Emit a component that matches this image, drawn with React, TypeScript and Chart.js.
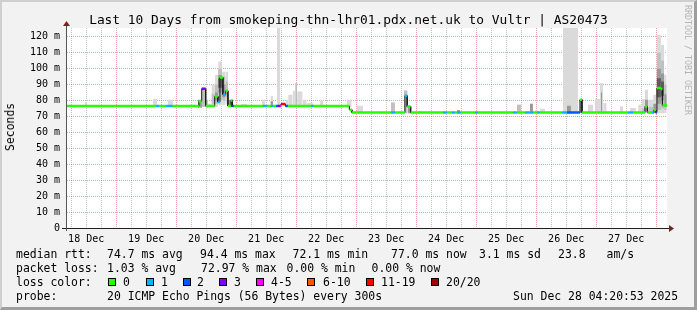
import React, { useEffect, useRef } from "react";
import { Chart, registerables } from "chart.js";

Chart.register(...registerables);

const FONT = '"DejaVu Sans Mono", monospace';

const title = "Last 10 Days from smokeping-thn-lhr01.pdx.net.uk to Vultr | AS20473";
const yUnitLabel = "Seconds";
const watermark = "RRDTOOL / TOBI OETIKER";

// x axis: hours since 18 Dec 00:00
const xMin = 4.33;
const xMax = 244.33;
const xGridHours = [6, 12, 18, 24, 30, 36, 42, 48, 54, 60, 66, 72, 78, 84, 90, 96, 102, 108, 114, 120, 126, 132, 138, 144, 150, 156, 162, 168, 174, 180, 186, 192, 198, 204, 210, 216, 222, 228, 234, 240];
const dayLabelHours = [12, 36, 60, 84, 108, 132, 156, 180, 204, 228];
const dayLabels = ["18 Dec", "19 Dec", "20 Dec", "21 Dec", "22 Dec", "23 Dec", "24 Dec", "25 Dec", "26 Dec", "27 Dec"];

// y axis: milliseconds
const yMax = 125.5;
const yGridValues = [0, 5, 10, 15, 20, 25, 30, 35, 40, 45, 50, 55, 60, 65, 70, 75, 80, 85, 90, 95, 100, 105, 110, 115, 120, 125];
const yLabelValues = [0, 10, 20, 30, 40, 50, 60, 70, 80, 90, 100, 110, 120];
const yLabelTexts = ["0", "10 m", "20 m", "30 m", "40 m", "50 m", "60 m", "70 m", "80 m", "90 m", "100 m", "110 m", "120 m"];

const lossColors = ["#26ff00", "#00b8ff", "#0059ff", "#7e00ff", "#ff00ff", "#ff5500", "#ff0000", "#a10000"];
const lossLabels = ["0", "1", "2", "3", "4-5", "6-10", "11-19", "20/20"];
const smokeShades = ["#dadada", "#c0c0c0", "#999999", "#5c5c5c"];

// median runs: [startHour, endHour, medianMs, lossClass]
const medianRuns: number[][] = [
  [4.3, 39.9, 76.5, 0],
  [39.9, 41.1, 76.5, 1],
  [41.1, 43.9, 76.5, 0],
  [43.9, 46.5, 76.5, 1],
  [46.5, 57.1, 76.5, 0],
  [57.1, 58.2, 79.4, 0],
  [58.2, 59.8, 87.4, 3],
  [59.8, 63.4, 76.5, 0],
  [63.4, 64.7, 82.6, 0],
  [64.7, 65.5, 79.0, 1],
  [65.5, 66.7, 94.4, 0],
  [66.7, 67.8, 83.6, 1],
  [67.8, 68.7, 86.1, 0],
  [68.7, 69.9, 76.5, 0],
  [69.9, 70.5, 80.0, 0],
  [70.5, 71.1, 76.5, 2],
  [71.1, 82.7, 76.5, 0],
  [82.7, 84.3, 76.5, 1],
  [84.3, 85.9, 76.5, 0],
  [85.9, 86.9, 76.5, 1],
  [86.9, 87.9, 76.5, 0],
  [87.9, 88.7, 76.5, 2],
  [88.7, 89.5, 76.5, 3],
  [89.5, 89.9, 76.5, 4],
  [89.9, 91.7, 77.8, 6],
  [91.7, 92.7, 76.5, 2],
  [92.7, 101.9, 76.5, 0],
  [101.9, 103.1, 76.5, 1],
  [103.1, 117.3, 76.5, 0],
  [117.3, 118.3, 74.2, 0],
  [118.3, 133.9, 72.5, 0],
  [133.9, 135.5, 72.5, 1],
  [135.5, 139.5, 72.5, 0],
  [139.5, 140.4, 83.0, 1],
  [140.4, 141.8, 76.2, 0],
  [141.8, 154.7, 72.5, 0],
  [154.7, 156.3, 72.5, 1],
  [156.3, 158.3, 72.5, 0],
  [158.3, 159.5, 72.5, 1],
  [159.5, 160.3, 72.5, 0],
  [160.3, 161.9, 72.5, 1],
  [161.9, 167.5, 72.5, 0],
  [167.5, 168.7, 72.5, 1],
  [168.7, 182.7, 72.5, 0],
  [182.7, 184.3, 72.5, 1],
  [184.3, 187.5, 72.5, 0],
  [187.5, 190.7, 72.5, 1],
  [190.7, 192.3, 72.5, 0],
  [192.3, 193.5, 72.5, 1],
  [193.5, 202.3, 72.5, 0],
  [202.3, 204.3, 72.5, 1],
  [204.3, 209.5, 72.5, 2],
  [209.5, 210.3, 80.5, 0],
  [210.3, 228.7, 72.5, 0],
  [228.7, 230.7, 72.5, 1],
  [230.7, 235.5, 72.5, 0],
  [235.5, 236.5, 76.3, 0],
  [236.5, 238.3, 72.5, 0],
  [238.3, 239.1, 72.5, 1],
  [239.1, 239.9, 74.0, 0],
  [239.9, 240.3, 72.5, 2],
  [240.3, 241.9, 87.8, 0],
  [241.9, 242.5, 87.2, 0],
  [242.5, 244.3, 77.0, 0],
];

// smoke boxes: [startHour, endHour, lowMs, highMs, shade]
const smokeBoxes: number[][] = [
  [11.5, 12.3, 76, 79, 0],
  [38.7, 40.3, 76, 81, 0],
  [44.7, 46.7, 76, 80.5, 0],
  [53.5, 54.7, 76, 77.5, 0],
  [56.7, 58.3, 75.5, 80.5, 2],
  [58.3, 59.9, 76, 88, 1],
  [59.9, 60.7, 75.5, 80.5, 1],
  [60.7, 62.7, 76, 78, 0],
  [62.1, 63.5, 76, 90, 0],
  [62.1, 63.5, 78, 84, 1],
  [63.5, 64.8, 76, 96, 0],
  [63.5, 64.8, 78, 90, 1],
  [63.5, 64.8, 80, 85, 2],
  [64.8, 66.4, 77, 104.5, 0],
  [64.8, 66.4, 80, 100, 1],
  [64.8, 66.4, 85, 96, 2],
  [64.8, 66.4, 88, 94, 3],
  [66.4, 67.8, 77, 98, 0],
  [66.4, 67.8, 80, 95, 1],
  [66.4, 67.8, 82, 90, 2],
  [67.8, 68.8, 78, 98, 0],
  [67.8, 68.8, 82, 92, 1],
  [68.8, 69.9, 76, 80.5, 2],
  [69.9, 70.8, 76, 80.5, 3],
  [73.9, 76.3, 76, 77.8, 0],
  [82.3, 83.5, 76, 80.5, 0],
  [85.7, 86.7, 76, 83, 0],
  [85.7, 86.7, 76, 79.5, 2],
  [88.3, 89.7, 76, 125.5, 0],
  [91.9, 92.8, 76, 80.5, 0],
  [92.8, 94.6, 76, 83.6, 0],
  [94.6, 95.5, 76, 86.1, 0],
  [95.5, 96.4, 76, 91, 0],
  [95.8, 96.2, 76, 91, 2],
  [96.4, 98.6, 76, 85.7, 0],
  [98.6, 100.2, 76, 80.5, 0],
  [100.2, 102.8, 76, 78.4, 0],
  [105.5, 106.8, 76, 80, 0],
  [116.3, 118.2, 76, 80.5, 0],
  [120.3, 122.7, 72, 76.7, 0],
  [133.9, 135.5, 72, 78.8, 1],
  [139.1, 140.6, 72, 86.3, 1],
  [140.6, 141.9, 72, 76.3, 2],
  [145.1, 146.7, 72, 73.5, 0],
  [160.3, 161.5, 72, 74, 2],
  [184.3, 185.9, 72, 77.4, 1],
  [189.5, 190.7, 72, 78, 2],
  [191.5, 192.7, 72, 74, 0],
  [193.5, 195.5, 72, 74.8, 0],
  [202.7, 208.7, 72, 125.5, 0],
  [204.3, 205.9, 72, 76.7, 2],
  [209.5, 210.7, 72, 80.5, 2],
  [212.6, 214.8, 72, 77.4, 0],
  [215.5, 217.5, 72, 81, 0],
  [217.5, 218.8, 72, 91, 0],
  [217.9, 218.4, 72, 85, 2],
  [218.8, 220.2, 72, 78.4, 0],
  [225.5, 226.7, 72, 76.3, 0],
  [229.5, 231.9, 72, 75.3, 0],
  [232.8, 234.2, 72, 77.4, 0],
  [234.2, 235.5, 72, 81, 0],
  [234.2, 235.5, 72, 75, 1],
  [235.5, 236.8, 72, 86.8, 0],
  [235.5, 236.8, 73, 80.5, 2],
  [236.8, 238.8, 72, 80.5, 0],
  [236.8, 238.8, 72, 76, 1],
  [238.8, 240.2, 72, 83.6, 0],
  [238.8, 240.2, 72, 78, 2],
  [240.2, 241.9, 72, 121.3, 0],
  [240.2, 241.9, 74, 110, 1],
  [240.2, 241.9, 78, 100, 2],
  [240.2, 241.9, 82, 94, 3],
  [241.9, 243.2, 72, 115, 0],
  [241.9, 243.2, 75, 105, 1],
  [241.9, 243.2, 80, 97, 2],
  [241.9, 243.2, 83, 92, 3],
  [243.2, 244.2, 72, 96.2, 0],
  [243.2, 244.2, 74, 90, 1],
  [243.2, 244.2, 76, 84, 2],
];

// legend text rows
const statRtt = [
  ["median rtt:", 16], ["74.7 ms avg", 107], ["94.4 ms max", 200], ["72.1 ms min", 292.5],
  ["77.0 ms now", 391], ["3.1 ms sd", 479], ["23.8", 558], ["am/s", 606.5],
];
const statLoss = [
  ["packet loss:", 16], ["1.03 % avg", 107], ["72.97 % max", 201], ["0.00 % min", 286.5], ["0.00 % now", 371.5],
];
const lossBoxX = [108, 146, 183, 219, 256, 307, 366, 431];
const lossLabelX = [123, 161, 197, 234, 271, 323, 381, 446];
const probeText = "20 ICMP Echo Pings (56 Bytes) every 300s";
const dateText = "Sun Dec 28 04:20:53 2025";

const MINOR = "rgba(143,143,143,0.55)";
const MAJOR = "rgba(222,79,79,0.55)";

const framePlugin = {
  id: "rrdFrame",
  beforeDraw(chart: any) {
    const { ctx, chartArea: a } = chart;
    ctx.save();
    ctx.fillStyle = "#ffffff";
    ctx.fillRect(a.left, a.top, a.right - a.left, a.bottom - a.top);
    ctx.restore();
  },
  afterDraw(chart: any) {
    const { ctx, chartArea: a } = chart;
    ctx.save();
    ctx.strokeStyle = "#1f1f1f";
    ctx.lineWidth = 1;
    ctx.beginPath();
    ctx.moveTo(a.left - 5, a.bottom + 0.5);
    ctx.lineTo(a.right + 3, a.bottom + 0.5);
    ctx.stroke();
    ctx.strokeStyle = "#555555";
    ctx.beginPath();
    ctx.moveTo(a.left - 0.5, a.bottom + 3);
    ctx.lineTo(a.left - 0.5, a.top - 3);
    ctx.stroke();
    ctx.fillStyle = "#801f1f";
    ctx.beginPath();
    ctx.moveTo(a.right + 2, a.bottom - 3);
    ctx.lineTo(a.right + 7, a.bottom + 0.5);
    ctx.lineTo(a.right + 2, a.bottom + 4);
    ctx.closePath();
    ctx.fill();
    ctx.beginPath();
    ctx.moveTo(a.left - 4, a.top - 2);
    ctx.lineTo(a.left - 0.5, a.top - 7);
    ctx.lineTo(a.left + 3, a.top - 2);
    ctx.closePath();
    ctx.fill();
    ctx.restore();
  },
};

export default function App() {
  const ref = useRef<HTMLCanvasElement | null>(null);

  useEffect(() => {
    if (!ref.current) return;
    const smokeDatasets = smokeBoxes.map(([h0, h1, lo, hi, s]) => ({
      type: "line" as const,
      data: [{ x: h0, y: hi }, { x: h1, y: hi }],
      fill: { value: lo },
      backgroundColor: smokeShades[s],
      borderColor: "rgba(0,0,0,0)",
      borderWidth: 0,
      pointRadius: 0,
      order: 100 - s,
    }));
    const medianLine = {
      type: "line" as const,
      data: medianRuns.flatMap(([h0, h1, v]) => [{ x: h0, y: v }, { x: h1, y: v }]),
      borderColor: "#1a1a1a",
      borderWidth: 1,
      pointRadius: 0,
      fill: false,
      order: 2,
    };
    const lossDatasets = lossColors.map((c, k) => ({
      type: "line" as const,
      data: medianRuns
        .filter((r) => r[3] === k)
        .flatMap(([h0, h1, v]) => [{ x: h0, y: v }, { x: h1, y: v }, { x: h1, y: null }]),
      borderColor: c,
      borderWidth: 2.5,
      borderCapStyle: "butt",
      pointRadius: 0,
      fill: false,
      spanGaps: false,
      order: 1,
    }));

    const chart = new Chart(ref.current, {
      type: "line",
      data: { datasets: [...lossDatasets, medianLine, ...smokeDatasets] as any },
      plugins: [framePlugin],
      options: {
        animation: false,
        responsive: false,
        events: [],
        layout: { padding: { left: 0, top: 28, right: 30, bottom: 0 } },
        elements: { line: { tension: 0 } },
        plugins: { legend: { display: false }, tooltip: { enabled: false }, title: { display: false } },
        scales: {
          x: {
            type: "linear",
            min: xMin,
            max: xMax,
            afterBuildTicks: (s: any) => {
              s.ticks = xGridHours.map((v) => ({ value: v }));
            },
            afterFit: (s: any) => {
              s.height = 82;
            },
            ticks: {
              autoSkip: false,
              maxRotation: 0,
              padding: 5,
              color: "#000",
              font: { family: FONT, size: 10 },
              callback: (v: any) => {
                const i = dayLabelHours.indexOf(Number(v));
                return i >= 0 ? dayLabels[i] : "";
              },
            },
            grid: {
              drawTicks: false,
              lineWidth: 1,
              color: (ctx: any) => (ctx.tick && ctx.tick.value % 24 === 0 ? MAJOR : MINOR),
              borderDash: [1, 1],
            } as any,
            border: { display: false, dash: [1, 1] },
          },
          y: {
            type: "linear",
            min: 0,
            max: yMax,
            afterBuildTicks: (s: any) => {
              s.ticks = yGridValues.map((v) => ({ value: v }));
            },
            afterFit: (s: any) => {
              s.width = 67;
            },
            ticks: {
              padding: 7,
              color: "#000",
              font: { family: FONT, size: 10 },
              callback: (v: any) => {
                const i = yLabelValues.indexOf(Number(v));
                return i >= 0 ? yLabelTexts[i] : "";
              },
            },
            grid: {
              drawTicks: false,
              lineWidth: 1,
              color: (ctx: any) => (ctx.tick && ctx.tick.value % 10 === 0 ? MAJOR : MINOR),
              borderDash: [1, 1],
            } as any,
            border: { display: false, dash: [1, 1] },
          },
        },
      } as any,
    });
    return () => chart.destroy();
  }, []);

  const txt = (left: number, top: number, size: number, extra: any = {}) => ({
    position: "absolute" as const,
    left,
    top,
    fontFamily: FONT,
    fontSize: size,
    lineHeight: "14px",
    whiteSpace: "pre" as const,
    color: "#000",
    ...extra,
  });

  return (
    <div style={{ position: "fixed", left: 0, top: 0, width: 697, height: 310, background: "#f2f2f2", overflow: "hidden" }}>
      <canvas ref={ref} width={697} height={310} style={{ position: "absolute", left: 0, top: 0, width: 697, height: 310 }} />
      <div style={{ position: "absolute", left: 0, top: 12, width: 697, textAlign: "center", fontFamily: FONT, fontSize: 12.86, lineHeight: "15px", whiteSpace: "pre", color: "#000" }}>
        {title}
      </div>
      <div style={{ position: "absolute", left: 3, top: 102.5, lineHeight: "14px", fontFamily: FONT, fontSize: 11.43, writingMode: "vertical-rl", transform: "rotate(180deg)", whiteSpace: "pre", color: "#000" }}>
        {yUnitLabel}
      </div>
      <div style={{ position: "absolute", left: 683, top: 5, lineHeight: "10px", fontFamily: FONT, fontSize: 8.3, writingMode: "vertical-rl", whiteSpace: "pre", color: "#b4b4b4" }}>
        {watermark}
      </div>
      {statRtt.map(([t, x], i) => (
        <div key={"r" + i} style={txt(x as number, 247, 11.43)}>{t}</div>
      ))}
      {statLoss.map(([t, x], i) => (
        <div key={"l" + i} style={txt(x as number, 261, 11.43)}>{t}</div>
      ))}
      <div style={txt(16, 275, 11.43)}>loss color:</div>
      {lossColors.map((c, i) => (
        <React.Fragment key={"c" + i}>
          <div style={{ position: "absolute", left: lossBoxX[i], top: 278, width: 8, height: 8, boxSizing: "border-box", border: "1px solid #000", background: c }} />
          <div style={txt(lossLabelX[i], 275, 11.43)}>{lossLabels[i]}</div>
        </React.Fragment>
      ))}
      <div style={txt(16, 289, 11.43)}>probe:</div>
      <div style={txt(107, 289, 11.43)}>{probeText}</div>
      <div style={txt(513, 289, 11.43)}>{dateText}</div>
      <div style={{ position: "absolute", left: 0, top: 0, width: 697, height: 310, boxSizing: "border-box", borderTop: "2px solid #cfcfcf", borderLeft: "2px solid #cfcfcf", borderBottom: "3px solid #9e9e9e", borderRight: "3px solid #9e9e9e", pointerEvents: "none" }} />
    </div>
  );
}
